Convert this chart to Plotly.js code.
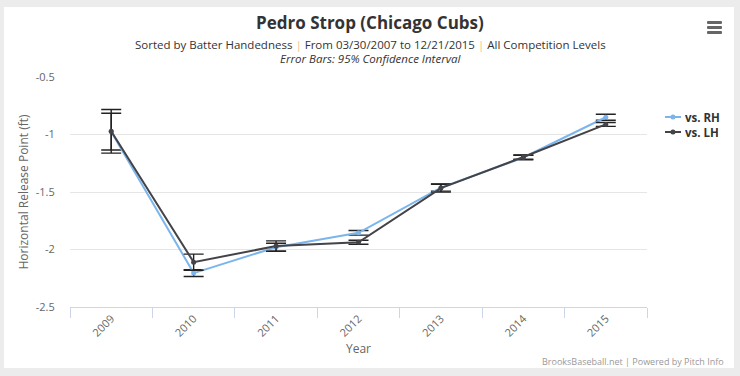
<!DOCTYPE html>
<html>
<head>
<meta charset="utf-8">
<script src="https://cdn.plot.ly/plotly-3.0.1.min.js"></script>
<style>
  html, body { margin: 0; padding: 0; background: #ececec; width: 740px; height: 376px; overflow: hidden; }
  #chart { position: absolute; left: 4px; top: 7px; width: 730px; height: 361px; background: #fff; }
  #menu { position: absolute; left: 707px; top: 21px; width: 15px; height: 13px; }
  #menu div { height: 3px; background: #666; margin-bottom: 2px; border-radius: 1px; }
</style>
</head>
<body>
<div id="chart"></div>
<div id="menu"><div></div><div></div><div></div></div>
<script>
// ---- data ----
const years = ["2009", "2010", "2011", "2012", "2013", "2014", "2015"];
const rhValues = [-0.975, -2.205, -1.98, -1.855, -1.462, -1.20, -0.85];
const rhErrors = [0.16, 0.03, 0.035, 0.02, 0.03, 0.02, 0.026];
const lhValues = [-0.972, -2.11, -1.97, -1.937, -1.466, -1.196, -0.912];
const lhErrors = [0.19, 0.07, 0.045, 0.017, 0.035, 0.018, 0.017];
const yTickVals = [-2.5, -2, -1.5, -1, -0.5];
const yTickText = ["-2.5", "-2", "-1.5", "-1", "-0.5"];
const seriesNames = ["vs. RH", "vs. LH"];
const seriesColors = ["#7cb5ec", "#434348"];

const FONT = "Open Sans, Liberation Sans, Arial, sans-serif";

function trace(name, y, err, color) {
  return {
    type: "scatter",
    mode: "lines+markers",
    name: name,
    x: years,
    y: y,
    line: { color: color, width: 2 },
    marker: { color: color, size: 5 },
    error_y: { type: "data", array: err, visible: true, color: "#222", thickness: 1.4, width: 10 },
    hoverinfo: "x+y",
    showlegend: false
  };
}

const data = [
  trace(seriesNames[0], rhValues, rhErrors, seriesColors[0]),
  trace(seriesNames[1], lhValues, lhErrors, seriesColors[1])
];

// plot area geometry (container pixels): width 577, height 230
const PW = 577, PH = 230;
const legendRowsY = [0.8261, 0.7609];
const shapes = [];
const annotations = [
  { xref: "paper", yref: "paper", x: 0.52, y: 1.239, xanchor: "center", yanchor: "middle", showarrow: false,
    text: "<b>Pedro Strop (Chicago Cubs)</b>", font: { family: FONT, size: 17, color: "#333" } },
  { xref: "paper", yref: "paper", x: 0.52, y: 1.143, xanchor: "center", yanchor: "middle", showarrow: false,
    text: "Sorted by Batter Handedness <span style='color:#f4c37d'>|</span> From 03/30/2007 to 12/21/2015 <span style='color:#f4c37d'>|</span> All Competition Levels",
    font: { family: FONT, size: 11.5, color: "#333" } },
  { xref: "paper", yref: "paper", x: 0.52, y: 1.080, xanchor: "center", yanchor: "middle", showarrow: false,
    text: "<i>Error Bars: 95% Confidence Interval</i>", font: { family: FONT, size: 11.5, color: "#333" } },
  { xref: "paper", yref: "paper", x: 1.137, y: -0.239, xanchor: "right", yanchor: "middle", showarrow: false,
    text: "BrooksBaseball.net | Powered by Pitch Info", font: { family: FONT, size: 9, color: "#999" } }
];
seriesNames.forEach((name, i) => {
  const yy = legendRowsY[i];
  shapes.push({ type: "line", xref: "paper", yref: "paper", x0: 1.0312, x1: 1.0589, y0: yy, y1: yy,
    line: { color: seriesColors[i], width: 2 } });
  shapes.push({ type: "circle", xref: "paper", yref: "paper",
    x0: 1.045 - 2.5 / PW, x1: 1.045 + 2.5 / PW, y0: yy - 2.5 / PH, y1: yy + 2.5 / PH,
    fillcolor: seriesColors[i], line: { width: 0 } });
  annotations.push({ xref: "paper", yref: "paper", x: 1.0641, y: yy, xanchor: "left", yanchor: "middle",
    showarrow: false, height: 12, borderpad: 0,
    text: "<b>" + name + "</b>", font: { family: FONT, size: 11.5, color: "#333" } });
});

const layout = {
  width: 730,
  height: 361,
  margin: { l: 66, r: 87, t: 70, b: 61, autoexpand: false },
  paper_bgcolor: "#ffffff",
  plot_bgcolor: "#ffffff",
  font: { family: FONT, color: "#666", size: 11 },
  showlegend: false,
  xaxis: {
    type: "category",
    range: [-0.5, years.length - 0.5],
    tickson: "boundaries",
    ticks: "outside", ticklen: 10, tickcolor: "#ccd6eb", tickwidth: 1,
    showline: true, linecolor: "#ccd6eb", linewidth: 1,
    showgrid: false, zeroline: false,
    tickangle: -45,
    automargin: false,
    tickfont: { family: FONT, size: 11, color: "#666" },
    title: { text: "Year", font: { family: FONT, size: 12, color: "#666" }, standoff: 6 },
    fixedrange: true
  },
  yaxis: {
    range: [-2.5, -0.5],
    tickvals: yTickVals, ticktext: yTickText,
    showgrid: true, gridcolor: "#e6e6e6", gridwidth: 1,
    zeroline: false, showline: false,
    ticks: "outside", ticklen: 12, tickcolor: "rgba(0,0,0,0)",
    automargin: false,
    tickfont: { family: FONT, size: 11, color: "#666" },
    title: { text: "Horizontal Release Point (ft)", font: { family: FONT, size: 12, color: "#666" }, standoff: 4 },
    fixedrange: true
  },
  shapes: shapes,
  annotations: annotations
};

Plotly.newPlot("chart", data, layout, { displayModeBar: false });
</script>
</body>
</html>
